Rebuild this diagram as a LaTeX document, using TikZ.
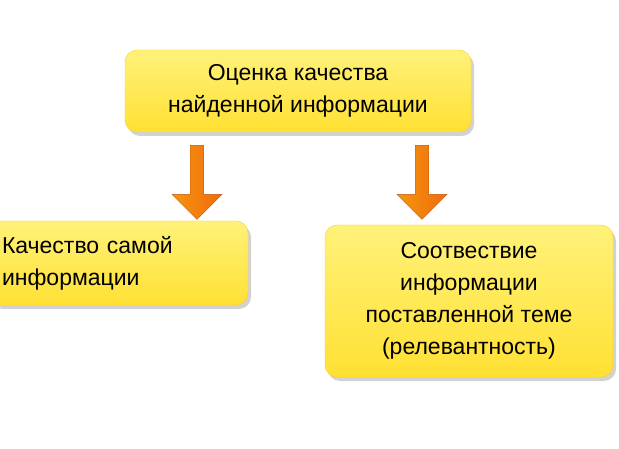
\documentclass[tikz,border=0pt]{standalone}
\usepackage{fontspec}
\setmainfont{Liberation Sans}
\usetikzlibrary{positioning,shapes.arrows,shadows}
\definecolor{boxyel}{HTML}{FFE033}
\definecolor{boxlight}{HTML}{FFF27A}
\definecolor{arrorange}{HTML}{F06A10}
\tikzset{
  infobox/.style={rounded corners=12pt, top color=boxlight, bottom color=boxyel,
    draw=boxyel!80!orange, line width=0.4pt, align=center, font=\fontsize{23}{32}\selectfont,
    drop shadow={shadow xshift=3pt, shadow yshift=-4pt, fill=black!35, opacity=0.5}},
  downarr/.style={single arrow, shape border rotate=270, draw=arrorange!80!black,
    minimum height=74pt, minimum width=50pt, single arrow head extend=14pt, inner sep=5pt,
    left color=arrorange!70!yellow, right color=arrorange}
}
\begin{document}
\begin{tikzpicture}[x=1pt,y=-1pt]
  \useasboundingbox (0,0) rectangle (619,449);
  % ===== рамки =====
  \node[infobox, minimum width=346pt, minimum height=82pt] (top) at (298,91)
    {Оценка качества\\найденной информации};
  \node[infobox, minimum width=260pt, minimum height=84pt, text width=232pt,
    inner xsep=14pt, align=left] (left) at (118,263)
    {Качество самой\\информации};
  \node[infobox, minimum width=288pt, minimum height=152pt] (right) at (469,301)
    {Соотвествие\\информации\\поставленной теме\\(релевантность)};
  % ===== стрелки =====
  \node[downarr] (arrL) at (197,179) {};
  \node[downarr] (arrR) at (422,179) {};
\end{tikzpicture}
\end{document}
